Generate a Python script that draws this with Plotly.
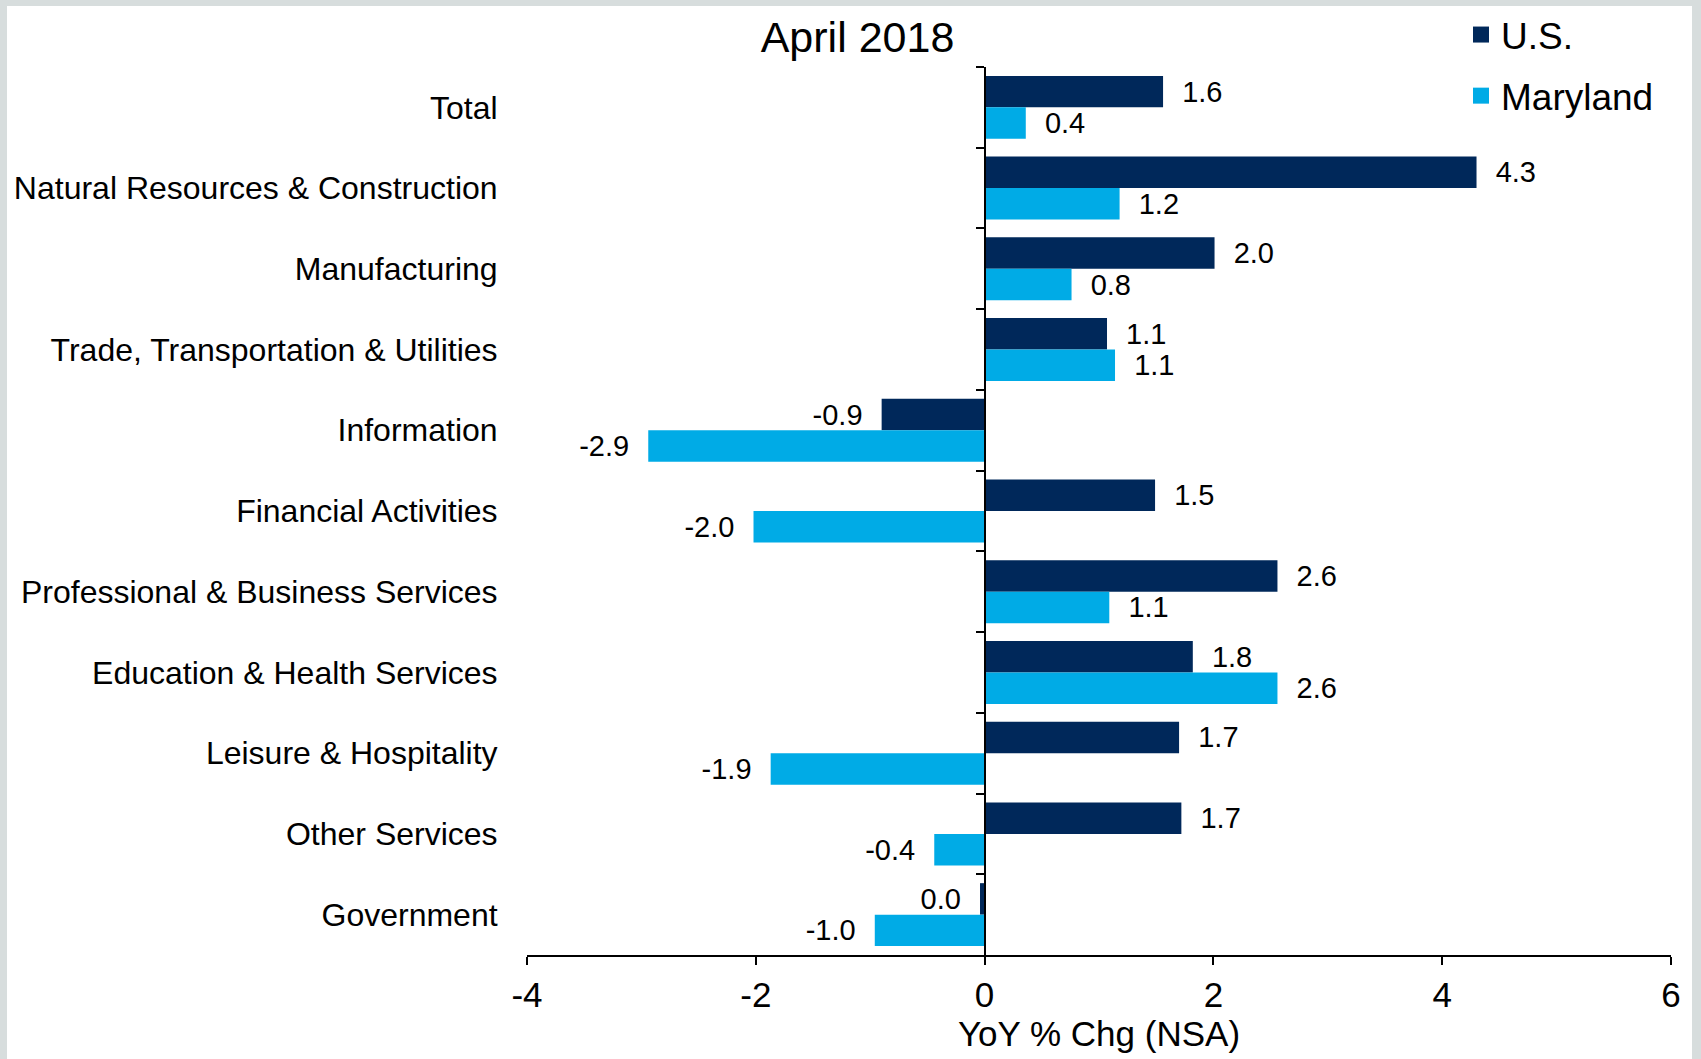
import plotly.graph_objects as go

categories = [
    "Total",
    "Natural Resources & Construction",
    "Manufacturing",
    "Trade, Transportation & Utilities",
    "Information",
    "Financial Activities",
    "Professional & Business Services",
    "Education & Health Services",
    "Leisure & Hospitality",
    "Other Services",
    "Government",
]
us_values = [1.56, 4.30, 2.01, 1.07, -0.90, 1.49, 2.56, 1.82, 1.70, 1.72, -0.04]
md_values = [0.36, 1.18, 0.76, 1.14, -2.94, -2.02, 1.09, 2.56, -1.87, -0.44, -0.96]
x_ticks = [-4, -2, 0, 2, 4, 6]

US_COLOR = "#00285A"
MD_COLOR = "#00ABE6"
FONT = "Liberation Sans, Arial, sans-serif"
NB = "\u00a0\u00a0"


def fmt(v):
    s = f"{v:.1f}"
    if s == "-0.0":
        s = "0.0"
    return s


def labels(vals):
    return [(NB + fmt(v)) if v >= 0 else (fmt(v) + NB) for v in vals]


fig = go.Figure()
for name, vals, color in [("U.S.", us_values, US_COLOR), ("Maryland", md_values, MD_COLOR)]:
    fig.add_trace(go.Bar(
        y=categories, x=vals, name=name, orientation="h",
        marker=dict(color=color, line=dict(width=0)),
        text=labels(vals), textposition="outside", constraintext="none",
        textfont=dict(family=FONT, size=29, color="black"),
        cliponaxis=False, showlegend=False, hoverinfo="skip",
    ))

# legend-only entries with larger square symbols
for i, (name, color) in enumerate([("U.S.", US_COLOR), ("Maryland", MD_COLOR)]):
    fig.add_trace(go.Scatter(
        x=[None], y=[None], name=name, mode="markers",
        marker=dict(symbol="square", size=18, color=color),
        legendgroup=f"g{i}", showlegend=True,
    ))

# invisible trace for the zero axis (y2)
fig.add_trace(go.Scatter(
    x=us_values, y=categories, yaxis="y2", mode="markers",
    marker=dict(opacity=0), showlegend=False, hoverinfo="skip",
))

W, H = 1701, 1059
L, R, T, B = 527, 30, 67, 104
pw, ph = W - L - R, H - T - B
n = len(categories)

fig.update_layout(
    width=W, height=H,
    margin=dict(l=L, r=R, t=T, b=B, pad=0, autoexpand=False),
    paper_bgcolor="#D7DDDD",
    plot_bgcolor="rgba(0,0,0,0)",
    barmode="group", bargap=0.22, bargroupgap=0,
    font=dict(family=FONT, color="black"),
    title=dict(text="April 2018", x=857.5 / W, xanchor="center",
               y=1 - 37 / H, yanchor="middle", xref="container", yref="container",
               font=dict(size=43, family=FONT, color="black")),
    legend=dict(x=1461 / W, xanchor="left", y=1 - 4 / H, yanchor="top",
                xref="container", yref="container",
                font=dict(size=37, family=FONT, color="black"),
                bgcolor="rgba(0,0,0,0)", traceorder="grouped", tracegroupgap=10,
                itemsizing="trace"),
    xaxis=dict(range=[x_ticks[0], x_ticks[-1]], tickvals=x_ticks,
               ticktext=[str(v) for v in x_ticks],
               ticks="outside", ticklen=8, tickwidth=2, tickcolor="black",
               showline=True, linewidth=2, linecolor="black",
               showgrid=False, zeroline=False,
               tickfont=dict(size=35, family=FONT, color="black"),
               title=dict(text="YoY % Chg (NSA)", standoff=5,
                          font=dict(size=35, family=FONT, color="black"))),
    yaxis=dict(type="category", categoryorder="array", categoryarray=categories,
               range=[n - 0.5, -0.5], autorange=False,
               showline=False, showgrid=False, zeroline=False,
               ticks="outside", ticklen=22, tickcolor="rgba(0,0,0,0)",
               tickfont=dict(size=32, family=FONT, color="black")),
    yaxis2=dict(type="category", categoryorder="array", categoryarray=categories,
                matches="y", overlaying="y", anchor="free",
                position=(0 - x_ticks[0]) / (x_ticks[-1] - x_ticks[0]), side="left",
                showline=True, linewidth=2, linecolor="black",
                ticks="outside", tickson="boundaries", ticklen=8, tickwidth=2,
                tickcolor="black", showticklabels=False, showgrid=False, zeroline=False),
    shapes=[dict(type="rect", xref="paper", yref="paper", layer="below",
                 x0=(7 - L) / pw, x1=(1692 - L) / pw,
                 y0=-0.3, y1=(H - B - 6) / ph,
                 fillcolor="white", line=dict(width=0))],
)

fig.write_html(
    "out.html",
    config={"displayModeBar": False},
    post_script="document.body.style.margin='0';document.body.style.overflow='hidden';",
)
